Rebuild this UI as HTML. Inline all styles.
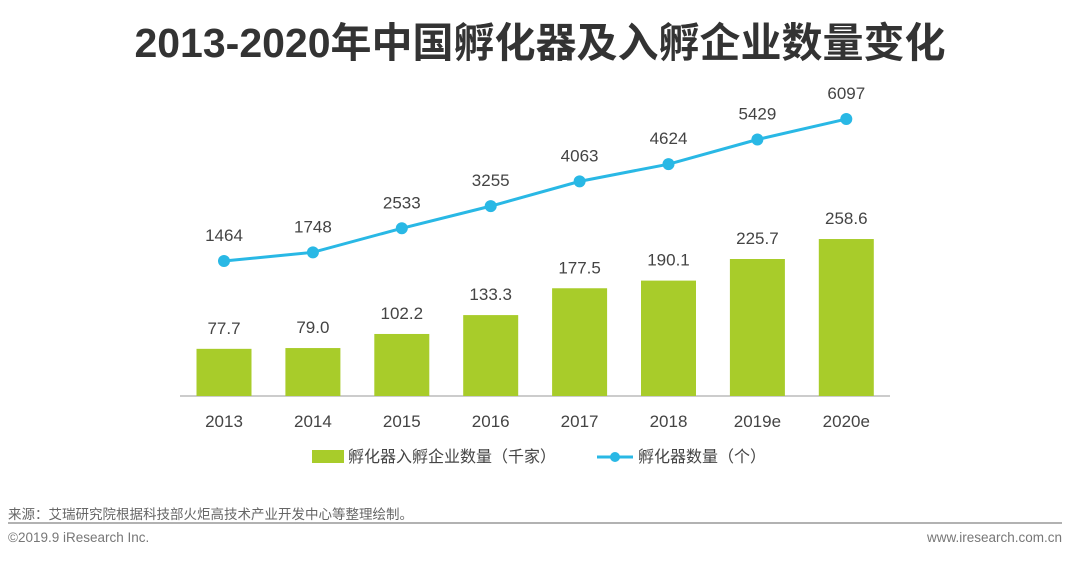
<!DOCTYPE html>
<html><head><meta charset="utf-8"><style>
body{margin:0;background:#fff;width:1080px;height:558px;overflow:hidden;font-family:"Liberation Sans","Noto Sans CJK SC",sans-serif}
</style></head><body>
<svg width="1080" height="558" xmlns="http://www.w3.org/2000/svg" style="font-family:'Liberation Sans','Noto Sans CJK SC',sans-serif">
<text x="540" y="57" text-anchor="middle" font-size="41" font-weight="bold" fill="#333">2013-2020年中国孵化器及入孵企业数量变化</text>
<line x1="180" y1="396" x2="890" y2="396" stroke="#bbb" stroke-width="1.5"/>
<g id="bars"></g><g id="line"></g><g id="xlabels"></g>
<g>
<rect x="312" y="450" width="32" height="13" fill="#a8cc2a"/>
<text x="348" y="462" font-size="16" fill="#444">孵化器入孵企业数量（千家）</text>
<line x1="597" y1="457" x2="633" y2="457" stroke="#29b8e5" stroke-width="3"/>
<circle cx="615" cy="457" r="5" fill="#29b8e5"/>
<text x="638" y="462" font-size="16" fill="#444">孵化器数量（个）</text>
</g>
<text x="8" y="519" font-size="13.5" fill="#666">来源：艾瑞研究院根据科技部火炬高技术产业开发中心等整理绘制。</text>
<line x1="8" y1="523" x2="1062" y2="523" stroke="#999" stroke-width="1.5"/>
<text x="8" y="542" font-size="13.5" fill="#777">©2019.9 iResearch Inc.</text>
<text x="1062" y="542" font-size="13.5" fill="#777" text-anchor="end">www.iresearch.com.cn</text>
</svg>
<script>
const categories=["2013","2014","2015","2016","2017","2018","2019e","2020e"];
const enterpriseValues=[77.7,79.0,102.2,133.3,177.5,190.1,225.7,258.6];
const incubatorValues=[1464,1748,2533,3255,4063,4624,5429,6097];
const enterpriseLabels=["77.7","79.0","102.2","133.3","177.5","190.1","225.7","258.6"];
const NS="http://www.w3.org/2000/svg";
function xPos(i){return 224+i*88.9;}
function yBar(v){return 396-v*0.607;}
function yLine(v){return 305.9-v*0.03065;}
function mk(t,a,p){const e=document.createElementNS(NS,t);for(const k in a)e.setAttribute(k,a[k]);p.appendChild(e);return e;}
const gb=document.getElementById('bars'),gl=document.getElementById('line'),gx=document.getElementById('xlabels');
categories.forEach((c,i)=>{
 const x=xPos(i),v=enterpriseValues[i];
 const r=mk('rect',{x:x-27.5,y:yBar(v),width:55,height:396-yBar(v),fill:'#a8cc2a'},gb);
 
 
 const t=mk('text',{x:x,y:yBar(v)-15,'text-anchor':'middle','font-size':17,fill:'#444'},gb);t.textContent=enterpriseLabels[i];
 
 
 const xl=mk('text',{x:x,y:427,'text-anchor':'middle','font-size':17,fill:'#444'},gx);xl.textContent=c;
 
 
});
const pts=incubatorValues.map((v,i)=>xPos(i)+','+yLine(v)).join(' ');
const pl=mk('polyline',{points:pts,fill:'none',stroke:'#29b8e5','stroke-width':3},gl);


incubatorValues.forEach((v,i)=>{
 const c=mk('circle',{cx:xPos(i),cy:yLine(v),r:6,fill:'#29b8e5'},gl);
 
 
 const t=mk('text',{x:xPos(i),y:yLine(v)-20,'text-anchor':'middle','font-size':17,fill:'#444'},gl);t.textContent=v;
 
 
});
</script>
</body></html>
